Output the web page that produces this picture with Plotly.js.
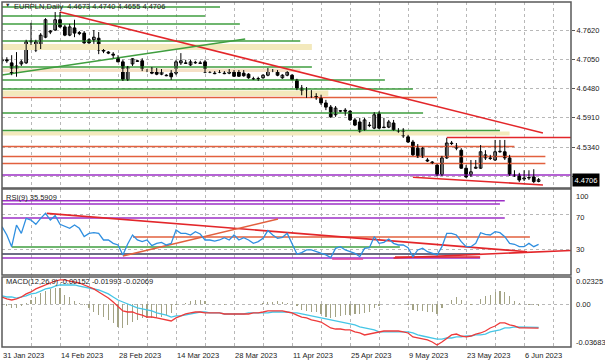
<!DOCTYPE html>
<html><head><meta charset="utf-8">
<script src="https://cdn.plot.ly/plotly-3.0.1.min.js"></script>
<style>html,body{margin:0;padding:0;background:#fff}#chart{width:605px;height:363px}</style>
</head><body><div id="chart"></div>
<script>
// ---------- data ----------
const dateTickIdx = [0,12,24,36,48,60,72,84,96,108];
const dateTickText = ["31 Jan 2023","14 Feb 2023","28 Feb 2023","14 Mar 2023","28 Mar 2023","11 Apr 2023","25 Apr 2023","9 May 2023","23 May 2023","6 Jun 2023"];

const openP = [4.702,4.704,4.698,4.680,4.696,4.698,4.739,4.723,4.729,4.748,4.758,4.762,4.782,4.768,4.752,4.766,4.757,4.756,4.743,4.743,
4.746,4.723,4.719,4.715,4.707,4.700,4.665,4.696,4.702,4.702,4.684,4.686,4.684,4.676,4.674,4.678,4.678,4.698,4.698,4.694,
4.698,4.698,4.700,4.680,4.678,4.680,4.678,4.678,4.680,4.682,4.678,4.676,4.667,4.667,4.669,4.674,4.682,4.680,4.669,4.674,
4.674,4.665,4.649,4.639,4.639,4.634,4.630,4.620,4.612,4.597,4.604,4.606,4.604,4.587,4.583,4.567,4.577,4.571,4.599,4.573,
4.573,4.581,4.566,4.567,4.554,4.544,4.532,4.515,4.509,4.505,4.499,4.480,4.513,4.542,4.532,4.528,4.493,4.480,4.493,4.493,
4.513,4.513,4.509,4.525,4.525,4.513,4.480,4.480,4.472,4.474,4.476,4.4673];
const highP = [4.709,4.709,4.713,4.719,4.704,4.743,4.776,4.743,4.756,4.785,4.762,4.797,4.797,4.772,4.774,4.782,4.760,4.760,4.746,4.762,
4.758,4.725,4.721,4.719,4.713,4.704,4.692,4.707,4.704,4.707,4.686,4.690,4.688,4.686,4.676,4.684,4.704,4.717,4.704,4.704,
4.702,4.702,4.704,4.682,4.682,4.684,4.682,4.686,4.684,4.684,4.684,4.678,4.671,4.671,4.676,4.688,4.686,4.684,4.676,4.682,
4.676,4.667,4.655,4.651,4.645,4.639,4.636,4.626,4.616,4.614,4.606,4.610,4.606,4.591,4.591,4.591,4.583,4.602,4.604,4.591,
4.587,4.587,4.571,4.571,4.558,4.548,4.540,4.534,4.513,4.507,4.501,4.517,4.552,4.546,4.542,4.532,4.499,4.509,4.509,4.538,
4.528,4.519,4.548,4.548,4.548,4.519,4.489,4.484,4.489,4.489,4.491,4.4740];
const lowP = [4.696,4.698,4.674,4.671,4.692,4.696,4.733,4.719,4.725,4.746,4.754,4.760,4.766,4.750,4.750,4.748,4.752,4.735,4.735,4.735,
4.715,4.717,4.715,4.707,4.700,4.663,4.663,4.692,4.700,4.682,4.680,4.676,4.674,4.674,4.672,4.665,4.674,4.694,4.696,4.692,
4.696,4.696,4.678,4.678,4.676,4.678,4.676,4.676,4.671,4.671,4.671,4.667,4.665,4.663,4.667,4.672,4.680,4.672,4.667,4.672,
4.665,4.645,4.635,4.630,4.630,4.626,4.616,4.606,4.591,4.593,4.602,4.595,4.585,4.575,4.562,4.566,4.573,4.569,4.569,4.571,
4.571,4.566,4.562,4.552,4.542,4.517,4.513,4.513,4.505,4.501,4.478,4.478,4.511,4.538,4.528,4.492,4.474,4.476,4.492,4.492,
4.509,4.509,4.507,4.523,4.509,4.478,4.476,4.466,4.468,4.470,4.464,4.4655];
const closeP = [4.704,4.702,4.678,4.692,4.700,4.739,4.741,4.739,4.752,4.782,4.760,4.782,4.768,4.752,4.768,4.756,4.755,4.737,4.737,4.748,
4.723,4.721,4.717,4.713,4.700,4.665,4.690,4.706,4.701,4.684,4.682,4.678,4.676,4.684,4.673,4.671,4.700,4.702,4.697,4.700,
4.699,4.697,4.680,4.681,4.677,4.681,4.677,4.684,4.672,4.672,4.673,4.669,4.666,4.667,4.674,4.684,4.683,4.674,4.674,4.680,
4.665,4.649,4.639,4.643,4.634,4.630,4.620,4.612,4.593,4.610,4.605,4.604,4.587,4.577,4.564,4.587,4.576,4.597,4.571,4.572,
4.583,4.567,4.564,4.556,4.544,4.519,4.515,4.532,4.507,4.503,4.480,4.513,4.542,4.541,4.536,4.493,4.476,4.486,4.495,4.525,
4.519,4.512,4.525,4.526,4.513,4.480,4.478,4.470,4.474,4.475,4.467,4.4706];

const rsi9 = [56.2,46.5,32.9,58.1,48.4,65.9,63.9,58.9,65.9,71.7,63.9,69.0,58.9,56.2,54.3,58.1,54.3,44.6,48.4,49.2,
48.4,40.7,40.7,36.8,34.9,23.3,36.0,46.5,40.7,38.8,40.7,34.1,36.8,38.0,34.9,36.8,52.3,48.4,48.4,46.5,
50.4,47.7,40.7,40.7,39.5,40.7,43.4,40.7,46.5,40.7,43.4,40.7,36.8,38.8,42.6,51.6,46.5,42.6,43.8,48.4,
36.8,24.4,26.0,29.1,29.1,27.1,25.2,23.3,20.2,31.0,32.9,29.1,27.1,25.2,21.3,31.0,31.8,44.6,36.8,38.0,
41.9,36.8,34.9,34.9,31.8,21.3,29.1,31.0,27.1,25.2,23.3,32.9,48.4,48.4,46.5,38.8,32.9,32.9,36.8,49.2,
47.3,46.5,50.4,49.2,44.6,36.8,35.7,32.9,32.9,36.8,32.9,35.59];

const macdMain = [0.0061,0.0044,0.0035,0.0044,0.0061,0.0087,0.0104,0.0130,0.0147,0.0164,0.0181,0.0198,0.0207,0.0207,0.0198,0.0190,0.0181,0.0164,0.0147,0.0130,
0.0104,0.0078,0.0052,0.0018,-0.0025,-0.0059,-0.0068,-0.0068,-0.0085,-0.0094,-0.0111,-0.0111,-0.0119,-0.0128,-0.0136,-0.0145,-0.0119,-0.0102,-0.0085,-0.0076,
-0.0068,-0.0068,-0.0076,-0.0076,-0.0076,-0.0076,-0.0085,-0.0085,-0.0085,-0.0085,-0.0085,-0.0085,-0.0076,-0.0076,-0.0068,-0.0059,-0.0059,-0.0059,-0.0059,-0.0068,
-0.0076,-0.0094,-0.0111,-0.0119,-0.0136,-0.0145,-0.0154,-0.0179,-0.0205,-0.0214,-0.0214,-0.0222,-0.0222,-0.0239,-0.0248,-0.0265,-0.0257,-0.0248,-0.0239,-0.0231,
-0.0231,-0.0231,-0.0231,-0.0239,-0.0248,-0.0282,-0.0291,-0.0300,-0.0308,-0.0325,-0.0351,-0.0325,-0.0291,-0.0265,-0.0257,-0.0274,-0.0282,-0.0274,-0.0257,-0.0248,
-0.0231,-0.0205,-0.0188,-0.0162,-0.0162,-0.0179,-0.0188,-0.0205,-0.0205,-0.0207,-0.0207,-0.02069];
const macdSignal = [0.0070,0.0061,0.0061,0.0052,0.0061,0.0070,0.0087,0.0095,0.0112,0.0130,0.0138,0.0155,0.0164,0.0164,0.0164,0.0164,0.0155,0.0147,0.0138,0.0130,
0.0121,0.0104,0.0087,0.0061,0.0035,0.0018,0.0001,-0.0016,-0.0033,-0.0042,-0.0051,-0.0059,-0.0076,-0.0085,-0.0094,-0.0111,-0.0102,-0.0102,-0.0094,-0.0085,
-0.0076,-0.0068,-0.0068,-0.0076,-0.0076,-0.0076,-0.0085,-0.0085,-0.0085,-0.0085,-0.0085,-0.0076,-0.0076,-0.0076,-0.0076,-0.0076,-0.0068,-0.0068,-0.0068,-0.0068,
-0.0076,-0.0076,-0.0085,-0.0094,-0.0102,-0.0111,-0.0119,-0.0128,-0.0136,-0.0145,-0.0154,-0.0162,-0.0171,-0.0179,-0.0196,-0.0205,-0.0214,-0.0222,-0.0239,-0.0239,
-0.0239,-0.0239,-0.0239,-0.0239,-0.0239,-0.0248,-0.0265,-0.0274,-0.0282,-0.0291,-0.0300,-0.0300,-0.0291,-0.0291,-0.0282,-0.0282,-0.0274,-0.0274,-0.0265,-0.0265,
-0.0257,-0.0239,-0.0231,-0.0222,-0.0205,-0.0205,-0.0196,-0.0196,-0.0196,-0.0198,-0.0199,-0.01993];
const macdHist = [-0.001,-0.002,-0.003,-0.003,-0.002,0.001,0.0035,0.0063,0.0093,0.0115,0.013,0.014,0.0136,0.0078,0.0063,0.0027,0.0009,-0.001,-0.0033,-0.0065,
-0.0094,-0.0108,-0.0136,-0.0165,-0.0194,-0.0208,-0.0179,-0.0151,-0.0136,-0.0122,-0.0117,-0.0122,-0.0117,-0.0108,-0.0094,-0.0079,-0.0005,0.0003,0.0008,0.0023,
0.0037,0.0037,0.0028,0.0005,-0.0003,0.0002,-0.0004,0.0003,-0.0002,0.0001,-0.0003,0.0004,0.0002,0.0005,0.0009,0.0017,0.0017,0.0023,0.0017,0.0009,
0.0,-0.002,-0.0051,-0.0059,-0.0065,-0.0071,-0.0088,-0.0108,-0.0117,-0.0108,-0.0099,-0.0094,-0.0094,-0.0088,-0.0088,-0.0079,-0.0065,-0.0036,-0.0013,-0.0003,
0.0002,-0.0002,0.0001,-0.0003,-0.0005,-0.0051,-0.0059,-0.0059,-0.0065,-0.0071,-0.0088,-0.0036,0.0,0.0037,0.0057,0.0037,0.0003,-0.0005,0.0002,0.0046,
0.0066,0.008,0.0103,0.0109,0.0103,0.0066,0.0029,0.0009,0.0002,-0.0005,-0.0005,-0.00152];

const priceTicks = [4.7620,4.7050,4.6480,4.5910,4.5340,4.4770];
const priceTickText = ["4.7620","4.7050","4.6480","4.5910","4.5340",""];
const lastPrice = 4.4706;
const headerText = "EURPLN,Daily  4.4673 4.4740 4.4655 4.4706";
const rsiText = "RSI(9) 35.5909";
const macdText = "MACD(12,26,9) -0.00152 -0.01993 -0.02069";

// drawn levels on price panel
const levelPrice = [4.8068,4.7892,4.7737,4.7406,4.6900,4.6647,4.6472,4.6306,4.6005,4.5664,4.5528,4.5353,4.5158,4.5022,4.4798];
const levelFrom  = [0,0,0,0,0,0,0,0,0,0,92,0,0,0,0];
const levelTo    = [45.1,42,49.2,61.7,64.1,79.2,85,90,87.1,103,117.7,106,112.4,112.4,117.7];
const levelKind  = ["g","g","g","g","g","g","g","o","g","g","r","o","o","o","p"];
const zoneLow  = [4.7231,4.6803,4.6336,4.5567];
const zoneHigh = [4.7347,4.6871,4.6443,4.5645];
const zoneFrom = [0,0,0,0];
const zoneTo   = [64.1,61.7,67.5,105];
const zoneKind = ["y","pe","y","y"];
const trendX0 = [12,0,85];
const trendY0 = [4.797,4.6744,4.4754];
const trendX1 = [111.9,50.3,111.9];
const trendY1 = [4.5616,4.7445,4.4604];
const trendKind = ["r","g","r"];

// drawn levels on RSI panel
const rsiLevelVal  = [86.4,82.6,66.3,44.2,32.6,24.4,19.8,18.6,20.9];
const rsiLevelFrom = [0,0,0,27.1,2,0,0,68.3,81.3];
const rsiLevelTo   = [104,103,104,109.2,82.3,98.9,98.9,74.7,98.9];
const rsiLevelKind = ["p","p","p","o","g","n","p","m","r"];
const rsiTrendX0 = [9.25,25,81];
const rsiTrendY0 = [71.7,22.1,19.8];
const rsiTrendX1 = [108.6,57.1,117.7];
const rsiTrendY1 = [27.1,65.1,28.5];
const rsiTrendKind = ["r","o","r"];

// ---------- styles ----------
const COL = {g:"#3f9e3f", o:"#e2603e", r:"#e3262a", p:"#9c2fc6", n:"#3c3c5c", m:"#e0409c", y:"#f3e9bc", pe:"#f6e0c6"};
const FONT = "Liberation Sans, Arial, sans-serif";
const idx = openP.map((_, i) => i);

const traces = [];
function seg(x0, y0, x1, y1, color, width, ya) {
  traces.push({type:"scatter", mode:"lines", x:[x0,x1], y:[y0,y1], xaxis:"x", yaxis:ya,
    line:{color:color, width:width}, hoverinfo:"skip", showlegend:false});
}
zoneLow.forEach((lo, i) => {
  traces.push({type:"scatter", mode:"lines", x:[zoneFrom[i],zoneTo[i],zoneTo[i],zoneFrom[i],zoneFrom[i]],
    y:[lo,lo,zoneHigh[i],zoneHigh[i],lo], fill:"toself", fillcolor:COL[zoneKind[i]], line:{width:0},
    xaxis:"x", yaxis:"y", hoverinfo:"skip", showlegend:false});
});
levelPrice.forEach((p, i) => seg(levelFrom[i], p, levelTo[i], p, COL[levelKind[i]], 1.5, "y"));
trendX0.forEach((x, i) => seg(x, trendY0[i], trendX1[i], trendY1[i], COL[trendKind[i]], 1.6, "y"));

// candles: wicks + bodies
const wx = [], wy = [];
idx.forEach(i => { wx.push(i, i, null); wy.push(lowP[i], highP[i], null); });
traces.push({type:"scatter", mode:"lines", x:wx, y:wy, xaxis:"x", yaxis:"y",
  line:{color:"#000", width:1}, hoverinfo:"skip", showlegend:false, connectgaps:false});
function bodies(up) {
  const sel = idx.filter(i => up ? closeP[i] >= openP[i] : closeP[i] < openP[i]);
  traces.push({type:"bar", x:sel, base:sel.map(i => Math.min(openP[i], closeP[i])),
    y:sel.map(i => Math.max(Math.abs(closeP[i] - openP[i]), 0.0005)), xaxis:"x", yaxis:"y", width:0.56,
    marker:{color: up ? "#fff" : "#000", line:{color:"#000", width:1}}, hoverinfo:"skip", showlegend:false});
}
bodies(true); bodies(false);

rsiLevelVal.forEach((v, i) => seg(rsiLevelFrom[i], v, rsiLevelTo[i], v, COL[rsiLevelKind[i]], 1.5, "y2"));
rsiTrendX0.forEach((x, i) => seg(x, rsiTrendY0[i], rsiTrendX1[i], rsiTrendY1[i], COL[rsiTrendKind[i]], 1.6, "y2"));
traces.push({type:"scatter", mode:"lines", x:idx, y:rsi9, xaxis:"x", yaxis:"y2",
  line:{color:"#2f8fe0", width:1.3}, hoverinfo:"skip", showlegend:false});

traces.push({type:"bar", x:idx, y:macdHist, xaxis:"x", yaxis:"y3", width:0.25,
  marker:{color:"#a3a385", line:{width:0}}, hoverinfo:"skip", showlegend:false});
traces.push({type:"scatter", mode:"lines", x:idx, y:macdSignal, xaxis:"x", yaxis:"y3",
  line:{color:"#45c6e6", width:1.3}, hoverinfo:"skip", showlegend:false});
traces.push({type:"scatter", mode:"lines", x:idx, y:macdMain, xaxis:"x", yaxis:"y3",
  line:{color:"#ee3a3a", width:1.3}, hoverinfo:"skip", showlegend:false});

const annotations = [];
function txt(text, x, xref, y, yref, opts) {
  annotations.push(Object.assign({text:text, x:x, xref:xref, y:y, yref:yref, showarrow:false,
    xanchor:"left", yanchor:"middle", font:{family:FONT, size:7.5, color:"#222"}}, opts || {}));
}
txt("▼", 0.002, "paper", 0.99, "paper", {font:{family:FONT, size:5.5, color:"#333"}});
txt(headerText, 0.017, "paper", 0.988, "paper");
txt(rsiText, 0.004, "paper", 0.9, "y2 domain");
txt(macdText, 0.004, "paper", 0.93, "y3 domain");
dateTickIdx.forEach((d, i) => txt(dateTickText[i], d, "x", -0.024, "paper", {xshift:-1}));
txt("100", 1, "paper", 0.91, "y2 domain", {xshift:3});
txt("70", 1, "paper", 0.67, "y2 domain", {xshift:3});
txt("30", 1, "paper", 0.30, "y2 domain", {xshift:3});
txt("0", 1, "paper", 0.05, "y2 domain", {xshift:3});
txt("0.02325", 1, "paper", 0.94, "y3 domain", {xshift:3});
txt("0.00", 1, "paper", 0.61, "y3 domain", {xshift:3});
txt("-0.03683", 1, "paper", 0.06, "y3 domain", {xshift:3});
txt("4.4706", 1, "paper", lastPrice, "y", {xshift:1, bgcolor:"#000", borderpad:1.5,
  font:{family:FONT, size:7.5, color:"#fff"}});

const grid = {showgrid:true, gridcolor:"#b8b8b8", griddash:"dot", gridwidth:1, zeroline:false};
const shapes = ["y","y2","y3"].map(a => ({type:"rect", xref:"x domain", yref:a + " domain",
  x0:0, x1:1, y0:0, y1:1, line:{color:"#5a5a5a", width:1.5}, layer:"above"}));

const layout = {
  width:605, height:363, margin:{l:2, r:34, t:2, b:16},
  paper_bgcolor:"#fff", plot_bgcolor:"#fff", showlegend:false, dragmode:false,
  barmode:"overlay", bargap:0,
  font:{family:FONT, size:7.5, color:"#222"},
  xaxis:Object.assign({anchor:"y3", range:[0,117.7], tickmode:"linear", tick0:0, dtick:6,
    showticklabels:false, ticks:"", showline:false}, grid),
  yaxis:Object.assign({domain:[0.4609,1], range:[4.4545,4.8165], side:"right", tickmode:"array",
    tickvals:priceTicks, ticktext:priceTickText, ticks:"outside", ticklen:3, tickcolor:"#555",
    tickfont:{family:FONT, size:7.5, color:"#222"}, showline:false}, grid),
  yaxis2:Object.assign({domain:[0.2087,0.458], range:[0,100], side:"right", tickmode:"array",
    tickvals:[70,30], showticklabels:false, ticks:"", showline:false}, grid),
  yaxis3:Object.assign({domain:[0,0.2029], range:[-0.03683,0.02325], side:"right", tickmode:"array",
    tickvals:[0], showticklabels:false, ticks:"", showline:false}, grid),
  annotations:annotations, shapes:shapes
};
Plotly.newPlot("chart", traces, layout, {staticPlot:true, displayModeBar:false});
</script></body></html>
